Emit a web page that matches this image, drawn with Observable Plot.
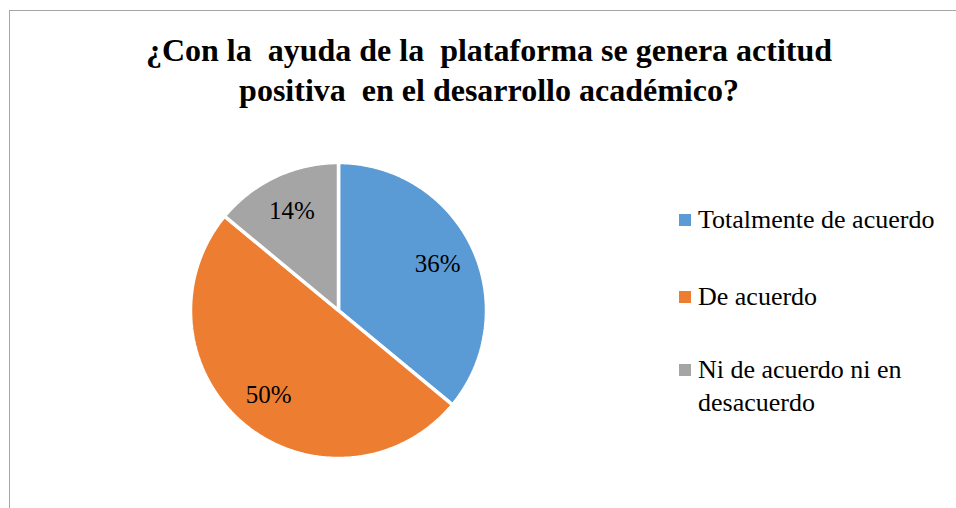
<!DOCTYPE html>
<html lang="es">
<head>
<meta charset="utf-8">
<script src="https://cdn.jsdelivr.net/npm/d3@7"></script>
<script src="https://cdn.jsdelivr.net/npm/@observablehq/plot@0.6"></script>
</head>
<body style="margin:0;padding:0;background:#fff;font-family:'Times New Roman','Liberation Serif',Tinos,Times,serif;">
<div id="wrap" style="position:relative;width:956px;height:508px;overflow:hidden;">
  <div style="position:absolute;left:9px;top:10px;width:960px;height:520px;border-left:1px solid #a6a6a6;border-top:1px solid #a6a6a6;"></div>
  <div id="title" style="position:absolute;left:0;width:978px;top:30px;text-align:center;font-family:'Times New Roman','Liberation Serif',Tinos,Times,serif;font-weight:bold;font-size:32px;line-height:40px;white-space:pre;color:#000;"></div>
  <div id="chart" style="position:absolute;left:0;top:0;"></div>
  <div id="legend" style="position:absolute;left:679px;top:203px;width:275px;font-family:'Times New Roman','Liberation Serif',Tinos,Times,serif;font-size:26px;line-height:33px;color:#000;"></div>
</div>
<script>
const titleLines = ["¿Con la  ayuda de la  plataforma se genera actitud", "positiva  en el desarrollo académico?"];
const categories = ["Totalmente de acuerdo", "De acuerdo", "Ni de acuerdo ni en desacuerdo"];
const values = [36, 50, 14];
const labels = ["36%", "50%", "14%"];
const colors = ["#5B9BD5", "#ED7D31", "#A5A5A5"];

const serif = "'Times New Roman', 'Liberation Serif', Tinos, Times, serif";

document.getElementById("title").textContent = titleLines.join("\n");

// slice geometry (angles clockwise from 12 o'clock)
const total = d3.sum(values);
let acc = 0;
const slices = categories.map((c, i) => {
  const a0 = acc / total * 2 * Math.PI;
  acc += values[i];
  const a1 = acc / total * 2 * Math.PI;
  return {cat: c, a0, a1, label: labels[i]};
});
const pts = [];
for (const s of slices) {
  pts.push({cat: s.cat, x: 0, y: 0});
  const n = Math.max(2, Math.ceil((s.a1 - s.a0) / (Math.PI / 360)));
  for (let k = 0; k <= n; k++) {
    const a = s.a0 + (s.a1 - s.a0) * k / n;
    pts.push({cat: s.cat, x: Math.sin(a), y: Math.cos(a)});
  }
}
const labelPts = slices.map(s => {
  const m = (s.a0 + s.a1) / 2;
  return {label: s.label, x: 0.74 * Math.sin(m), y: 0.74 * Math.cos(m)};
});

const plot = Plot.plot({
  width: 956,
  height: 508,
  x: {domain: [-1, 1], range: [190, 486], axis: null},
  y: {domain: [-1, 1], range: [458, 162], axis: null},
  color: {domain: categories, range: colors},
  style: {background: "transparent", overflow: "visible", fontFamily: serif},
  marks: [
    Plot.line(pts, {x: "x", y: "y", z: "cat", fill: "cat", stroke: "white", strokeWidth: 3.5, strokeLinejoin: "miter", curve: "linear-closed"}),
    Plot.text(labelPts, {x: "x", y: "y", text: "label", fontSize: 25, fontFamily: serif, fill: "#000"})
  ]
});
document.getElementById("chart").appendChild(plot);

// legend
const legendTops = [0, 77, 150];
const leg = document.getElementById("legend");
categories.forEach((c, i) => {
  const it = document.createElement("div");
  it.style.cssText = "position:absolute;left:0;display:flex;align-items:flex-start;top:" + legendTops[i] + "px;";
  const sw = document.createElement("div");
  sw.style.cssText = "width:12px;height:12px;margin-top:11px;margin-right:7px;flex:none;background:" + colors[i] + ";";
  const tx = document.createElement("div");
  tx.textContent = c;
  tx.style.cssText = "width:245px;font-family:" + serif + ";";
  it.appendChild(sw);
  it.appendChild(tx);
  leg.appendChild(it);
});
</script>
</body>
</html>
